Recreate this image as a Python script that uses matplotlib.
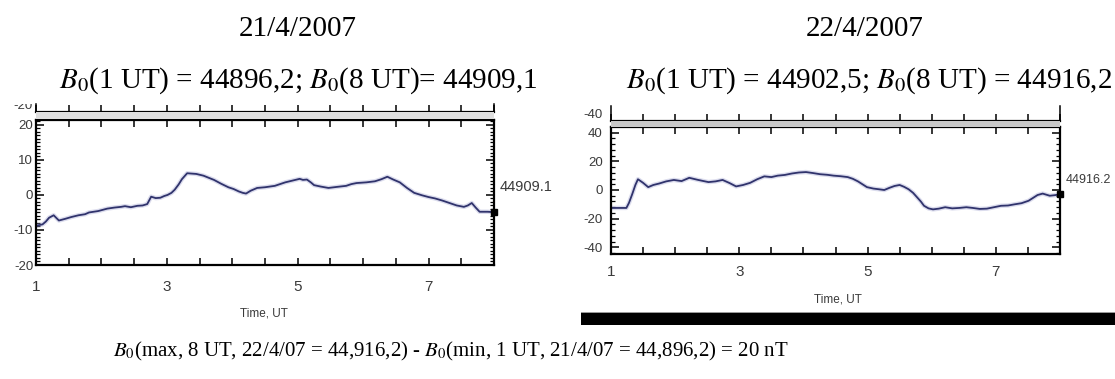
import matplotlib
matplotlib.use("Agg")
import matplotlib.pyplot as plt
from matplotlib.ticker import MultipleLocator, FixedLocator
from matplotlib.patches import Rectangle
from matplotlib.transforms import Bbox

# ---------------- data ----------------
date_left = "21/4/2007"
date_right = "22/4/2007"
sub_left = "$B_0$(1 UT) = 44896,2; $B_0$(8 UT)= 44909,1"
sub_right = "$B_0$(1 UT) = 44902,5; $B_0$(8 UT) = 44916,2"
footer = "$B_0$(max, 8 UT, 22/4/07 = 44,916,2) - $B_0$(min, 1 UT, 21/4/07 = 44,896,2) = 20 nT"
end_label_left = "44909.1"
end_label_right = "44916.2"
strip_label_left = "-20"
strip_label_right = "-40"
xtick_values = [1, 3, 5, 7]
xlabel = "Time, UT"
yticks_left = [-20, -10, 0, 10, 20]
yticks_right = [-40, -20, 0, 20, 40]

t_left = [1.00, 1.05, 1.10, 1.15, 1.20, 1.27, 1.35, 1.45, 1.54, 1.65, 1.75, 1.81,
          1.95, 2.09, 2.20, 2.30, 2.36, 2.45, 2.55, 2.63, 2.70, 2.76, 2.83, 2.90,
          2.96, 3.01, 3.07, 3.12, 3.18, 3.23, 3.31, 3.38, 3.45, 3.56, 3.64, 3.72,
          3.83, 3.94, 4.02, 4.10, 4.16, 4.21, 4.28, 4.38, 4.50, 4.65, 4.73, 4.81,
          4.92, 5.03, 5.08, 5.14, 5.20, 5.25, 5.35, 5.47, 5.60, 5.74, 5.82, 5.90,
          6.05, 6.18, 6.28, 6.37, 6.46, 6.56, 6.67, 6.78, 6.90, 7.00, 7.10, 7.21,
          7.32, 7.43, 7.54, 7.60, 7.66, 7.72, 7.78, 7.90, 8.00]
v_left = [-8.8, -8.6, -8.4, -7.6, -6.5, -5.8, -7.3, -6.8, -6.3, -5.8, -5.5, -5.0,
          -4.6, -3.9, -3.6, -3.4, -3.2, -3.5, -3.1, -3.0, -2.6, -0.5, -0.9, -0.8,
          -0.3, 0.0, 0.6, 1.5, 3.0, 4.5, 6.2, 6.1, 6.0, 5.5, 4.9, 4.3,
          3.2, 2.2, 1.7, 1.0, 0.6, 0.4, 1.2, 2.0, 2.2, 2.6, 3.1, 3.6,
          4.1, 4.6, 4.3, 4.4, 3.6, 2.8, 2.4, 2.0, 2.3, 2.6, 3.1, 3.4,
          3.6, 3.9, 4.5, 5.2, 4.4, 3.6, 2.0, 0.6, -0.1, -0.6, -1.0, -1.6,
          -2.3, -3.0, -3.4, -3.0, -2.3, -3.6, -4.8, -4.8, -4.9]

t_right = [1.00, 1.24, 1.28, 1.33, 1.38, 1.42, 1.50, 1.58, 1.66, 1.75, 1.86, 1.98,
           2.10, 2.22, 2.36, 2.52, 2.63, 2.74, 2.85, 2.95, 3.06, 3.17, 3.28, 3.39,
           3.50, 3.60, 3.71, 3.82, 3.93, 4.04, 4.15, 4.26, 4.37, 4.47, 4.58, 4.69,
           4.77, 4.85, 4.92, 4.99, 5.09, 5.18, 5.26, 5.34, 5.42, 5.50, 5.57, 5.64,
           5.71, 5.77, 5.83, 5.88, 5.95, 6.02, 6.11, 6.21, 6.32, 6.43, 6.54, 6.64,
           6.75, 6.86, 6.97, 7.08, 7.19, 7.29, 7.40, 7.51, 7.58, 7.65, 7.73, 7.84,
           7.92, 8.00]
v_right = [-12.5, -12.5, -9.0, -3.0, 3.5, 7.5, 5.0, 2.0, 3.5, 4.5, 6.0, 7.0,
           6.2, 8.5, 7.0, 5.5, 6.0, 7.0, 4.8, 2.5, 3.5, 5.0, 7.5, 9.5,
           9.0, 10.0, 10.5, 11.5, 12.2, 12.5, 11.8, 11.0, 10.6, 10.0, 9.6, 9.0,
           7.8, 6.0, 4.0, 2.0, 1.0, 0.5, 0.0, 1.5, 2.8, 3.5, 2.2, 0.5,
           -2.0, -5.0, -8.0, -11.0, -12.8, -13.5, -13.0, -12.0, -12.8, -12.5, -12.0, -12.5,
           -13.2, -13.0, -12.0, -11.0, -10.8, -10.0, -9.2, -7.5, -5.5, -3.5, -2.5, -4.0,
           -3.6, -3.0]

# ---------------- layout helpers ----------------
W, H, DPI = 1115, 379, 100
plt.rcParams["mathtext.fontset"] = "stix"
plt.rcParams["axes.unicode_minus"] = False
SERIF = ["Liberation Serif", "DejaVu Serif"]
NARROW = ["Liberation Sans Narrow", "Liberation Sans", "DejaVu Sans"]
LINE_C = "#30336c"
HALO_C = "#9a9ccc"
LBL_C = "#3a3a3a"

fig = plt.figure(figsize=(W / DPI, H / DPI), dpi=DPI)
fig.patch.set_facecolor("white")


def box(x0, y0, x1, y1):
    return [x0 / W, 1 - y1 / H, (x1 - x0) / W, (y1 - y0) / H]


def fx(x):
    return x / W


def fy(y):
    return 1 - y / H


def panel(ax_box, strip_box, gap_box, t, v, ylim, yticks, yminor, ymajlen,
          xpad, ypad, end_label, end_xy, end_size, strip_label, strip_lbl_xy,
          clip_top, gap_color, xlabel_xy):
    ax = fig.add_axes(box(*ax_box))
    ax.plot(t, v, color=HALO_C, lw=3.2, alpha=0.35, solid_capstyle="round")
    ax.plot(t, v, color=LINE_C, lw=1.3)
    ax.plot([t[-1]], [v[-1]], marker="s", ms=4.5, color="black", clip_on=False)
    ax.set_xlim(1, 8)
    ax.set_ylim(*ylim)
    ax.xaxis.set_major_locator(FixedLocator(xtick_values))
    ax.xaxis.set_minor_locator(MultipleLocator(0.5))
    ax.yaxis.set_major_locator(FixedLocator(yticks))
    ax.yaxis.set_minor_locator(MultipleLocator(yminor))
    ax.tick_params(axis="both", which="both", direction="in", top=True,
                   right=True, color="black")
    ax.tick_params(axis="x", which="major", length=5, width=1.1, pad=xpad,
                   labelsize=11, labelcolor=LBL_C)
    ax.tick_params(axis="x", which="minor", length=5, width=1.1)
    ax.tick_params(axis="y", which="major", length=ymajlen, width=1.1, pad=ypad,
                   labelsize=9.5, labelcolor=LBL_C)
    ax.tick_params(axis="y", which="minor", length=3, width=0.9)
    for lab in ax.get_xticklabels() + ax.get_yticklabels():
        lab.set_family(NARROW)
    for s in ax.spines.values():
        s.set_linewidth(1.6)
    # thin strip of the panel above (cropped in the source)
    sx = fig.add_axes(box(*strip_box))
    sx.set_xlim(1, 8)
    sx.set_ylim(0, 1)
    sx.set_yticks([])
    sx.xaxis.set_major_locator(MultipleLocator(0.5))
    sx.tick_params(axis="x", direction="in", length=5, width=1.1,
                   labelbottom=False)
    sx.spines["top"].set_visible(False)
    sx.spines["bottom"].set_linewidth(1.6)
    sx.spines["left"].set_linewidth(1.1)
    sx.spines["right"].set_linewidth(1.1)
    fig.patches.append(Rectangle((fx(gap_box[0]), fy(gap_box[3])),
                                 (gap_box[2] - gap_box[0]) / W,
                                 (gap_box[3] - gap_box[1]) / H,
                                 transform=fig.transFigure, facecolor=gap_color,
                                 edgecolor="none", zorder=0))
    st = fig.text(fx(strip_lbl_xy[0]), fy(strip_lbl_xy[1]), strip_label,
                  ha="right", va="center", fontsize=9.5, color=LBL_C,
                  family=NARROW)
    st.set_clip_box(Bbox([[0, 0], [W, H - clip_top]]))
    st.set_clip_on(True)
    fig.text(fx(end_xy[0]), fy(end_xy[1]), end_label, ha="left", va="center",
             fontsize=end_size, color=LBL_C, family=NARROW)
    fig.text(fx(xlabel_xy[0]), fy(xlabel_xy[1]), xlabel, ha="center",
             va="center", fontsize=8.5, color=LBL_C, family=NARROW)
    return ax


panel((36, 120, 494, 265), (36, 104, 494, 112), (36, 112, 494, 119),
      t_left, v_left, (-20.0, 21.4), yticks_left, 1, 6, 11, 2,
      end_label_left, (500, 187), 10.5, strip_label_left, (33, 106), 104,
      "#dedede", (264, 314))

panel((611, 127, 1060, 254), (611, 106, 1060, 121), (611, 121, 1060, 127),
      t_right, v_right, (-44.6, 43.9), yticks_right, 4, 6, 8, 6,
      end_label_right, (1066, 180), 9, strip_label_right, (603, 115), 104,
      "#c9c9c9", (838, 300))

# black frame remnant under the right picture
fig.patches.append(Rectangle((fx(581), fy(325)), (1115 - 581) / W, 12 / H,
                             transform=fig.transFigure, facecolor="black",
                             edgecolor="none"))
fig.patches.append(Rectangle((fx(581), fy(313)), (1115 - 581) / W, 1.5 / H,
                             transform=fig.transFigure, facecolor="#9a9a9a",
                             edgecolor="none"))

# titles and footer
fig.text(fx(298), fy(36), date_left, ha="center", va="baseline", fontsize=21,
         family=SERIF)
fig.text(fx(865), fy(36), date_right, ha="center", va="baseline", fontsize=21,
         family=SERIF)
fig.text(fx(298), fy(88), sub_left, ha="center", va="baseline", fontsize=21,
         family=SERIF)
fig.text(fx(1112), fy(88), sub_right, ha="right", va="baseline", fontsize=21,
         family=SERIF)
fig.text(fx(113), fy(356), footer, ha="left", va="baseline", fontsize=15,
         family=SERIF)

fig.savefig("out.png", dpi=DPI, facecolor="white")
